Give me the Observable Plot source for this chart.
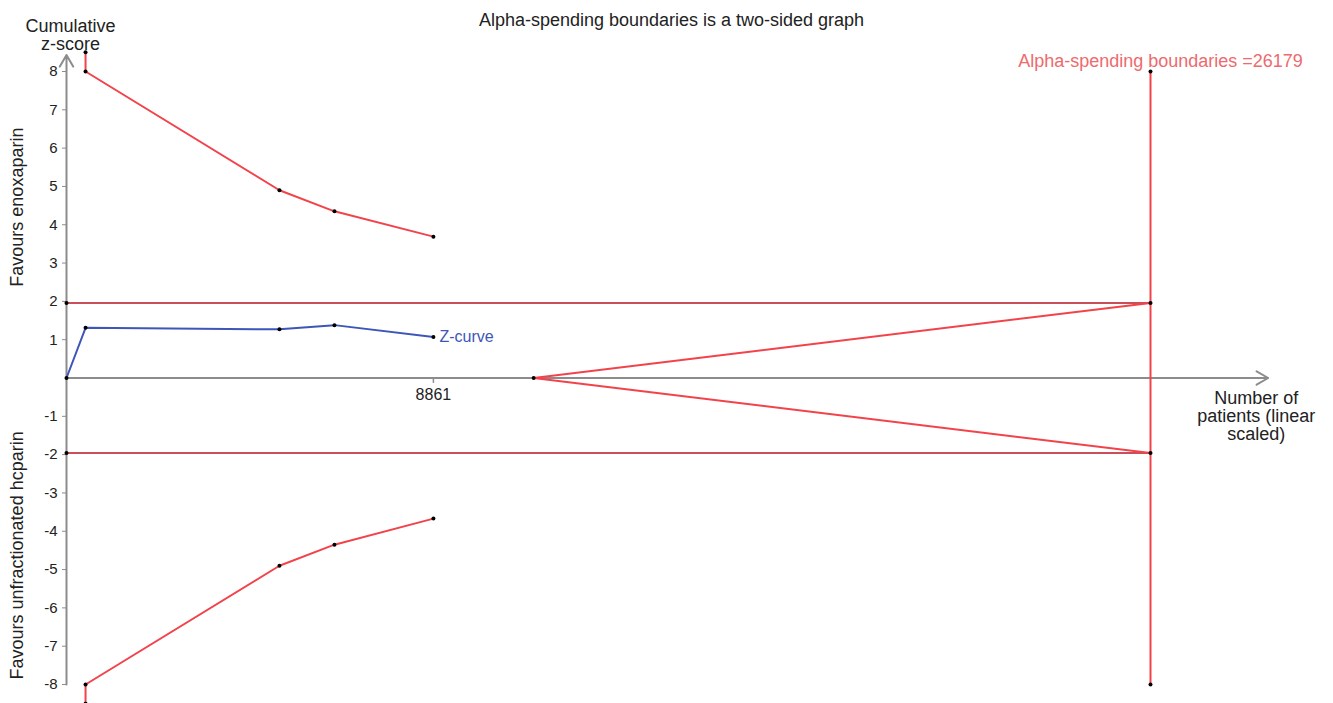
<!DOCTYPE html>
<html>
<head>
<meta charset="utf-8">
<script src="https://cdn.jsdelivr.net/npm/d3@7"></script>
<script src="https://cdn.jsdelivr.net/npm/@observablehq/plot@0.6"></script>
<style>
  html, body { margin: 0; padding: 0; background: #fff; }
  #chart svg { display: block; }
</style>
</head>
<body>
<div id="chart"></div>
<script>
// Trial sequential analysis: cumulative z-score versus number of patients
const requiredSize = 26179;          // alpha-spending required information size
const conventionalZ = 1.96;          // conventional two-sided significance level
const futilityStart = 11282;         // start of the inner wedge

// Cumulative Z-curve
const zPatients = [0, 460, 5143, 6471, 8861];
const zScores   = [0, 1.31, 1.27, 1.38, 1.07];

// Alpha-spending boundaries (first look is capped above the scale)
const boundPatients = [460, 460, 5143, 6471, 8861];
const upperBound    = [8.5, 8, 4.90, 4.35, 3.69];
const lowerBound    = [-8.5, -8, -4.90, -4.35, -3.67];

const yTicks = [-8, -7, -6, -5, -4, -3, -2, -1, 1, 2, 3, 4, 5, 6, 7, 8];
const xTicks = [8861];

const zCurve = zPatients.map((n, i) => ({n, z: zScores[i]}));
const upper = boundPatients.map((n, i) => ({n, z: upperBound[i]}));
const lower = boundPatients.map((n, i) => ({n, z: lowerBound[i]}));
const wedgeUpper = [{n: futilityStart, z: 0}, {n: requiredSize, z: conventionalZ}];
const wedgeLower = [{n: futilityStart, z: 0}, {n: requiredSize, z: -conventionalZ}];
const endDots = [
  {n: requiredSize, z: 8}, {n: requiredSize, z: conventionalZ},
  {n: requiredSize, z: -conventionalZ}, {n: requiredSize, z: -8},
  {n: 0, z: conventionalZ}, {n: 0, z: -conventionalZ}, {n: futilityStart, z: 0}
];

const red = "#f2434b";
const darkRed = "#c9505a";
const blue = "#3d56b8";
const grey = "#8c8c8c";
const font = "Liberation Sans, Arial, Helvetica, sans-serif";

const chart = Plot.plot({
  width: 1333,
  height: 703,
  marginLeft: 66,
  marginRight: 183,
  marginTop: 71,
  marginBottom: 19,
  style: {fontFamily: font, background: "#fff", overflow: "visible"},
  x: {domain: [0, requiredSize], axis: null},
  y: {domain: [-8, 8], axis: null},
  marks: [
    // axes drawn as arrows through the origin
    Plot.arrow([0], {x1: 0, x2: 29021, y1: 0, y2: 0, stroke: grey, strokeWidth: 2, headLength: 10}),
    Plot.arrow([0], {x1: 0, x2: 0, y1: -8, y2: 8.43, stroke: grey, strokeWidth: 2, headLength: 10}),
    Plot.axisY({ticks: yTicks, tickSize: 4, tickPadding: 5, stroke: grey, fontSize: 15, color: "#222", label: null, tickFormat: d => String(d)}),
    Plot.ruleX(xTicks, {x: d => d, y1: 0, y2: -0.14, stroke: grey, strokeWidth: 1.5}),
    Plot.text(xTicks, {x: d => d, y: 0, dy: 17, text: d => String(d), fontSize: 16, fill: "#222"}),

    // conventional boundaries
    Plot.ruleY([conventionalZ, -conventionalZ], {x1: 0, x2: requiredSize, stroke: darkRed, strokeWidth: 2}),
    // inner wedge
    Plot.line(wedgeUpper, {x: "n", y: "z", stroke: red, strokeWidth: 2}),
    Plot.line(wedgeLower, {x: "n", y: "z", stroke: red, strokeWidth: 2}),
    // required information size
    Plot.ruleX([requiredSize], {y1: -8, y2: 8, stroke: red, strokeWidth: 2}),
    // alpha-spending boundaries
    Plot.line(upper, {x: "n", y: "z", stroke: red, strokeWidth: 2}),
    Plot.line(lower, {x: "n", y: "z", stroke: red, strokeWidth: 2}),
    // Z-curve
    Plot.line(zCurve, {x: "n", y: "z", stroke: blue, strokeWidth: 2}),

    // knots
    Plot.dot(upper, {x: "n", y: "z", r: 2, fill: "#000"}),
    Plot.dot(lower, {x: "n", y: "z", r: 2, fill: "#000"}),
    Plot.dot(zCurve, {x: "n", y: "z", r: 2, fill: "#000"}),
    Plot.dot(endDots, {x: "n", y: "z", r: 2, fill: "#000"}),

    // labels
    Plot.text(["Z-curve"], {x: zPatients[zPatients.length - 1], y: zScores[zScores.length - 1], dx: 6, textAnchor: "start", fill: blue, fontSize: 16}),
    Plot.text([`Alpha-spending boundaries =${requiredSize}`], {x: requiredSize, y: 8, dx: 10, dy: -10, fill: "#ee6a6e", fontSize: 18}),
    Plot.text(["Number of\npatients (linear\nscaled)"], {x: 29021, y: 0, dx: -12, dy: 13, lineAnchor: "top", lineHeight: 1.0, fill: "#222", fontSize: 18}),
    Plot.text(["Cumulative\nz-score"], {frameAnchor: "top-left", dx: 4, dy: -52, lineAnchor: "top", lineHeight: 1.0, textAnchor: "middle", fill: "#222", fontSize: 18}),
    Plot.text(["Favours enoxaparin"], {frameAnchor: "left", y: 4.46, dx: -49, rotate: -90, textAnchor: "middle", fill: "#222", fontSize: 18}),
    Plot.text(["Favours unfractionated hcparin"], {frameAnchor: "left", y: -4.63, dx: -49, rotate: -90, textAnchor: "middle", fill: "#222", fontSize: 18}),
    Plot.text(["Alpha-spending boundaries is a two-sided graph"], {frameAnchor: "top", dx: 63, dy: -58, fill: "#222", fontSize: 18})
  ]
});

document.getElementById("chart").appendChild(chart);
</script>
</body>
</html>
